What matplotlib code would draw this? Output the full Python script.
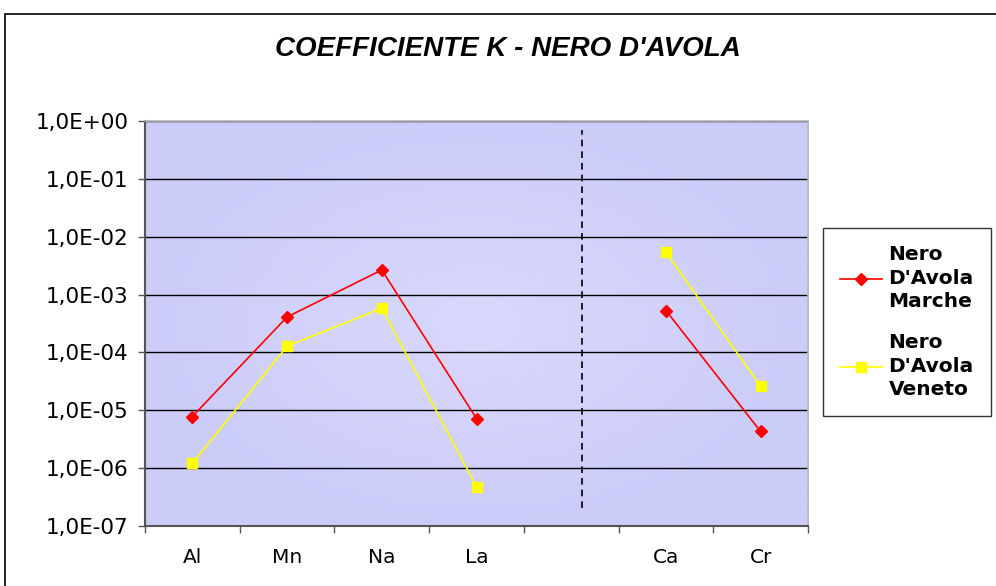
import numpy as np
import matplotlib.pyplot as plt
from matplotlib.patches import Rectangle
from matplotlib.lines import Line2D

categories = ['Al', 'Mn', 'Na', 'La', '', 'Ca', 'Cr']
marche = [7.8e-6, 4.1e-4, 2.66e-3, 7.2e-6, np.nan, 5.3e-4, 4.3e-6]
veneto = [1.21e-6, 1.28e-4, 5.8e-4, 4.8e-7, np.nan, 5.4e-3, 2.6e-5]
y_ticks = [1e-7, 1e-6, 1e-5, 1e-4, 1e-3, 1e-2, 1e-1, 1e0]
y_labels = ['1,0E-07', '1,0E-06', '1,0E-05', '1,0E-04', '1,0E-03', '1,0E-02', '1,0E-01', '1,0E+00']
title = "COEFFICIENTE K - NERO D'AVOLA"
labels = ["Nero\nD'Avola\nMarche", "Nero\nD'Avola\nVeneto"]

fig = plt.figure(figsize=(9.96, 5.86), dpi=100)
W, H = 996, 586

# outer chart border (right and bottom edges fall off the canvas)
fig.patches.append(Rectangle((5 / W, -0.1), 1.2, 1.1 - 14 / H, transform=fig.transFigure,
                             fill=False, edgecolor='black', linewidth=1.2))

ax = fig.add_axes([145 / W, 1 - 526 / H, (808 - 145) / W, (526 - 121) / H])

# radial gradient background
gx, gy = np.meshgrid(np.linspace(-1, 1, 200), np.linspace(-1, 1, 200))
r = np.clip(np.sqrt(gx ** 2 + gy ** 2), 0, 1)
c_in = np.array([0.85, 0.85, 0.99])
c_out = np.array([0.80, 0.80, 0.98])
img = c_in[None, None, :] * (1 - r[..., None]) + c_out[None, None, :] * r[..., None]
ax.imshow(img, extent=[0, 1, 0, 1], transform=ax.transAxes, aspect='auto', zorder=0)

x = np.arange(len(categories))
ax.set_yscale('log')
ax.set_xlim(-0.5, len(categories) - 0.5)
ax.set_ylim(1e-7, 1e0)

for t in y_ticks[1:]:
    ax.axhline(t, color='black', linewidth=1.0, zorder=1)

ax.plot([4.11, 4.11], [10 ** -6.69, 10 ** -0.156], color='black', linestyle=(0, (4, 3)),
        linewidth=1.2, zorder=2)

ax.plot(x, marche, color='#ff0000', marker='D', markersize=6.5, linewidth=1.2, zorder=3)
ax.plot(x, veneto, color='#ffff00', marker='s', markersize=7.5, linewidth=1.2, zorder=3)

ax.set_yticks(y_ticks)
ax.set_yticklabels(y_labels)
ax.yaxis.set_minor_locator(plt.NullLocator())
ax.set_xticks(np.arange(-0.5, len(categories), 1.0))
ax.set_xticklabels([])
ax.set_xticks(x, minor=True)
ax.set_xticklabels(categories, minor=True)
ax.tick_params(axis='x', which='minor', length=0, pad=16, labelsize=14.5)
ax.tick_params(axis='x', which='major', length=5, width=1, color='#555555', direction='out')
ax.tick_params(axis='y', length=5, width=1, color='#555555', labelsize=15.5, pad=7)

for s in ['left', 'bottom']:
    ax.spines[s].set_color('#555555')
    ax.spines[s].set_linewidth(1.5)
for s in ['top', 'right']:
    ax.spines[s].set_color('#b8b8b8')
    ax.spines[s].set_linewidth(1.2)

fig.text(508 / W, 1 - 49 / H, title, ha='center', va='center', fontsize=20,
         fontweight='bold', fontstyle='italic', family='Liberation Sans')

handles = [Line2D([], [], color='#ff0000', marker='D', markersize=6.5, linewidth=1.2),
           Line2D([], [], color='#ffff00', marker='s', markersize=7.5, linewidth=1.2)]
leg = fig.legend(handles, labels, loc='upper left', bbox_to_anchor=(823 / W, 1 - 228 / H),
                 borderaxespad=0, frameon=True, fancybox=False, edgecolor='#333333',
                 handlelength=2.1, prop={'weight': 'bold', 'size': 14.5}, labelspacing=1.1,
                 borderpad=0.85, handletextpad=0.3, framealpha=1)
leg.get_frame().set_linewidth(1.0)
for t in leg.get_texts():
    t.set_linespacing(1.3)

fig.savefig('out.png', dpi=100)
